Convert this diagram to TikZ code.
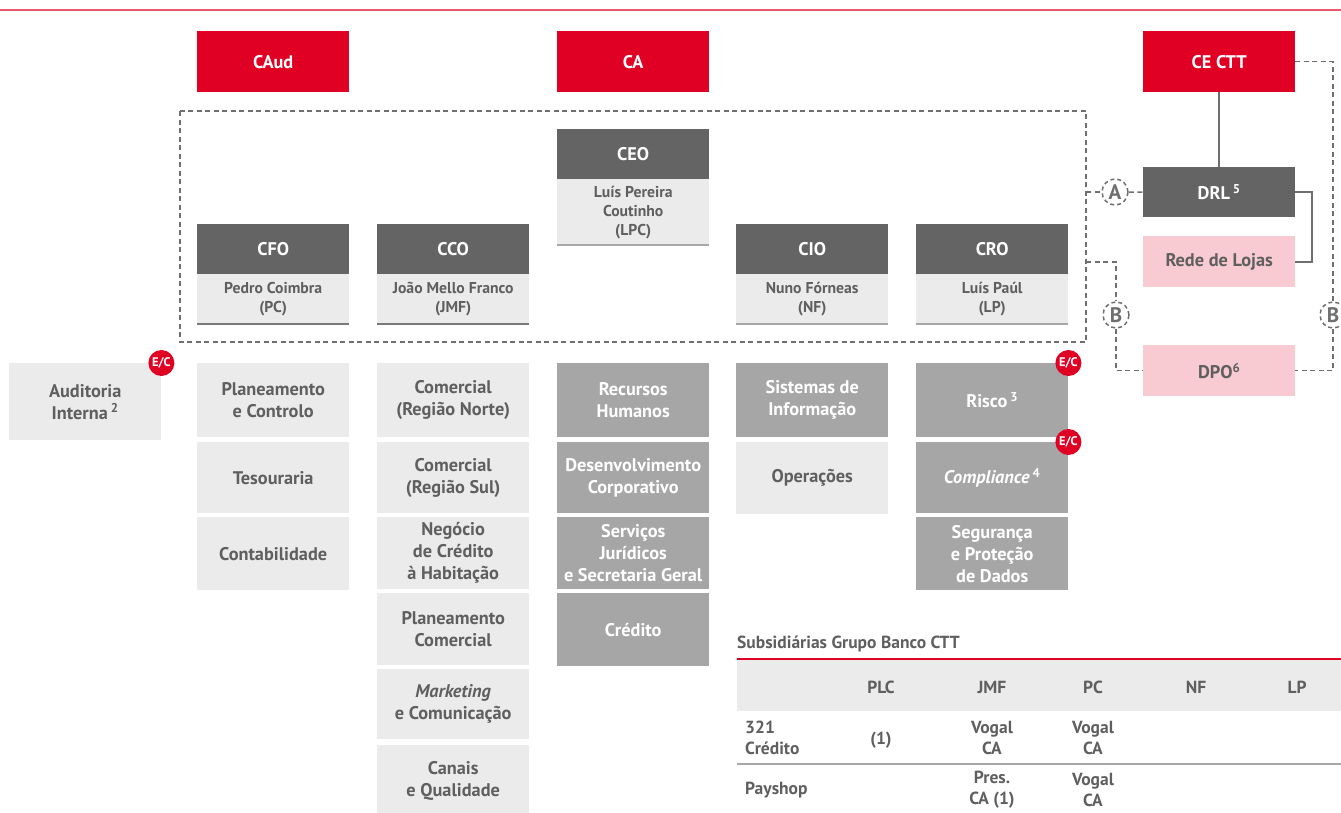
\documentclass[tikz,border=0pt]{standalone}
\usepackage{fontspec}
\setmainfont{PT Sans}
\usetikzlibrary{positioning}

\definecolor{cttred}{HTML}{DF0024}
\definecolor{topline}{HTML}{E9596A}
\definecolor{darkg}{HTML}{646464}
\definecolor{midg}{HTML}{A6A6A6}
\definecolor{lightg}{HTML}{EBEBEB}
\definecolor{pinkc}{HTML}{F8CAD2}
\definecolor{txt}{HTML}{5F5F5F}
\definecolor{dashg}{HTML}{6F6F6F}
\definecolor{ruleg}{HTML}{7A7A7A}
\definecolor{rulelt}{HTML}{A8A8A8}

\tikzset{
  base/.style={draw=none, inner sep=0pt, align=center, anchor=north west,
    minimum width=152pt, font=\bfseries\fontsize{18.3}{22}\selectfont},
  redbox/.style={base, fill=cttred, text=white, minimum height=61pt},
  hdbox/.style={base, fill=darkg, text=white, minimum height=50pt},
  namebox/.style={base, fill=lightg, text=txt, minimum height=50pt,
    font=\bfseries\fontsize{15.7}{19}\selectfont},
  midbox/.style={base, fill=midg, text=white},
  litbox/.style={base, fill=lightg, text=txt},
  pinkbox/.style={base, fill=pinkc, text=txt, minimum height=51pt},
  badge/.style={circle, fill=cttred, text=white, minimum size=26pt, inner sep=0pt,
    font=\bfseries\fontsize{12.5}{13}\selectfont},
  lettercirc/.style={circle, draw=dashg, line width=1.5pt, dash pattern=on 4pt off 3pt,
    fill=white, minimum size=26pt, inner sep=0pt, text=dashg,
    font=\bfseries\fontsize{21}{22}\selectfont},
  dashline/.style={draw=dashg, line width=1.5pt, dash pattern=on 5pt off 3.5pt},
  solidline/.style={draw=dashg, line width=2pt},
  baseline rule/.style={line width=2pt},
  tabtxt/.style={inner sep=0pt, align=center, text=txt, font=\bfseries\fontsize{17.5}{21}\selectfont},
}

\begin{document}
\begin{tikzpicture}[x=1pt, y=-1pt]
\useasboundingbox (0,0) rectangle (1341,812);

% top rule
\coordinate (tl) at (0,10);
\coordinate (tr) at (1341,10);
\draw[topline, line width=1.5pt] (tl) -- (tr);

% boards
\node[redbox] (caud) at (197,31) {CAud};
\node[redbox] (ca) at (557,31) {CA};
\node[redbox] (cectt) at (1143,31) {CE CTT};

% executive committee frame
\coordinate (exnw) at (180,111);
\coordinate (exse) at (1086,342);
\draw[dashline] (exnw) rectangle (exse);

% executives
\node[hdbox] (ceo) at (557,129) {CEO};
\node[namebox, minimum height=66pt] (ceon) at (557,179) {Luís Pereira\\Coutinho\\(LPC)};
\draw[rulelt, baseline rule] (ceon.south west) -- (ceon.south east);

\node[hdbox] (cfo) at (197,224) {CFO};
\node[namebox] (cfon) at (197,274) {Pedro Coimbra\\(PC)};
\draw[ruleg, baseline rule] (cfon.south west) -- (cfon.south east);

\node[hdbox] (cco) at (377,224) {CCO};
\node[namebox] (ccon) at (377,274) {João Mello Franco\\(JMF)};
\draw[ruleg, baseline rule] (ccon.south west) -- (ccon.south east);

\node[hdbox] (cio) at (736,224) {CIO};
\node[namebox] (cion) at (736,274) {Nuno Fórneas\\(NF)};
\draw[rulelt, baseline rule] (cion.south west) -- (cion.south east);

\node[hdbox] (cro) at (916,224) {CRO};
\node[namebox] (cron) at (916,274) {Luís Paúl\\(LP)};
\draw[rulelt, baseline rule] (cron.south west) -- (cron.south east);

% internal audit
\node[litbox, minimum height=77pt] (aud) at (9,363) {Auditoria\\Interna\,\textsuperscript{2}};
\node[badge] (audbadge) at (aud.north east) {E/C};

% CFO areas
\node[litbox, minimum height=74pt] (plc) at (197,363) {Planeamento\\e Controlo};
\node[litbox, minimum height=71pt] (tes) at (197,442) {Tesouraria};
\node[litbox, minimum height=73pt] (cont) at (197,517) {Contabilidade};

% CCO areas
\node[litbox, minimum height=74pt] (cnorte) at (377,363) {Comercial\\(Região Norte)};
\node[litbox, minimum height=71pt] (csul) at (377,442) {Comercial\\(Região Sul)};
\node[litbox, minimum height=72pt] (nch) at (377,517) {Negócio\\de Crédito\\à Habitação};
\node[litbox, minimum height=72pt] (pcom) at (377,593) {Planeamento\\Comercial};
\node[litbox, minimum height=70pt] (mkt) at (377,669) {\textit{Marketing}\\e Comunicação};
\node[litbox, minimum height=72pt] (canais) at (377,745) {Canais\\e Qualidade};

% CEO areas
\node[midbox, minimum height=74pt] (rh) at (557,363) {Recursos\\Humanos};
\node[midbox, minimum height=71pt] (dc) at (557,442) {Desenvolvimento\\Corporativo};
\node[midbox, minimum height=72pt] (sj) at (557,517) {Serviços\\Jurídicos\\e Secretaria Geral};
\node[midbox, minimum height=73pt] (cred) at (557,593) {Crédito};

% CIO areas
\node[midbox, minimum height=74pt] (si) at (736,363) {Sistemas de\\Informação};
\node[litbox, minimum height=72pt] (ops) at (736,442) {Operações};

% CRO areas
\node[midbox, minimum height=74pt] (risco) at (916,363) {Risco\,\textsuperscript{3}};
\node[midbox, minimum height=71pt] (compl) at (916,442) {\textit{Compliance}\,\textsuperscript{4}};
\node[midbox, minimum height=73pt] (seg) at (916,517) {Segurança\\e Proteção\\de Dados};
\node[badge] (riscobadge) at (risco.north east) {E/C};
\node[badge] (complbadge) at (compl.north east) {E/C};

% store network and data protection
\node[hdbox] (drl) at (1143,167) {DRL\,\textsuperscript{5}};
\node[pinkbox] (rede) at (1143,236) {Rede de Lojas};
\node[pinkbox] (dpo) at (1143,345) {DPO\textsuperscript{6}};

\draw[solidline] (cectt.south) -- (drl.north);
\draw[solidline] (drl.east) -- ++(17,0) |- (rede.east);

% reporting links
\node[lettercirc] (la) at (1115,192) {A};
\node[lettercirc] (lb1) at (1116,315) {B};
\node[lettercirc] (lb2) at (1333,315) {B};
\coordinate (exa) at (1086,192);
\coordinate (exb) at (1086,262);

\draw[dashline] (exa) -- (la.west);
\draw[dashline] (la.east) -- (drl.west);
\draw[dashline] (exb) -| (lb1.north);
\draw[dashline] (lb1.south) |- (dpo.west);
\draw[dashline] (cectt.east) -| (lb2.north);
\draw[dashline] (lb2.south) |- (dpo.east);

% subsidiaries table
\node[tabtxt, anchor=west] (ttitle) at (737,644) {Subsidiárias Grupo Banco CTT};
\coordinate (thl) at (737,659);
\coordinate (thr) at (1341,711);
\fill[lightg] (thl) rectangle (thr);
\draw[cttred, line width=1.2pt] (thl) -- (thl -| thr);

\node[tabtxt] (hplc) at (881,687) {PLC};
\node[tabtxt] (hjmf) at (992,687) {JMF};
\node[tabtxt] (hpc) at (1093,687) {PC};
\node[tabtxt] (hnf) at (1196,687) {NF};
\node[tabtxt] (hlp) at (1297,687) {LP};

\node[tabtxt, anchor=west, align=left] (r1) at (745,738) {321\\Crédito};
\node[tabtxt] (r1plc) at (881,740) {(1)};
\node[tabtxt] (r1jmf) at (992,738) {Vogal\\CA};
\node[tabtxt] (r1pc) at (1093,738) {Vogal\\CA};

\coordinate (sepl) at (737,764);
\coordinate (sepr) at (1341,764);
\draw[rulelt, line width=1.2pt] (sepl) -- (sepr);

\node[tabtxt, anchor=west] (r2) at (745,790) {Payshop};
\node[tabtxt] (r2jmf) at (992,790) {Pres.\\CA (1)};
\node[tabtxt] (r2pc) at (1093,790) {Vogal\\CA};
\end{tikzpicture}
\end{document}
